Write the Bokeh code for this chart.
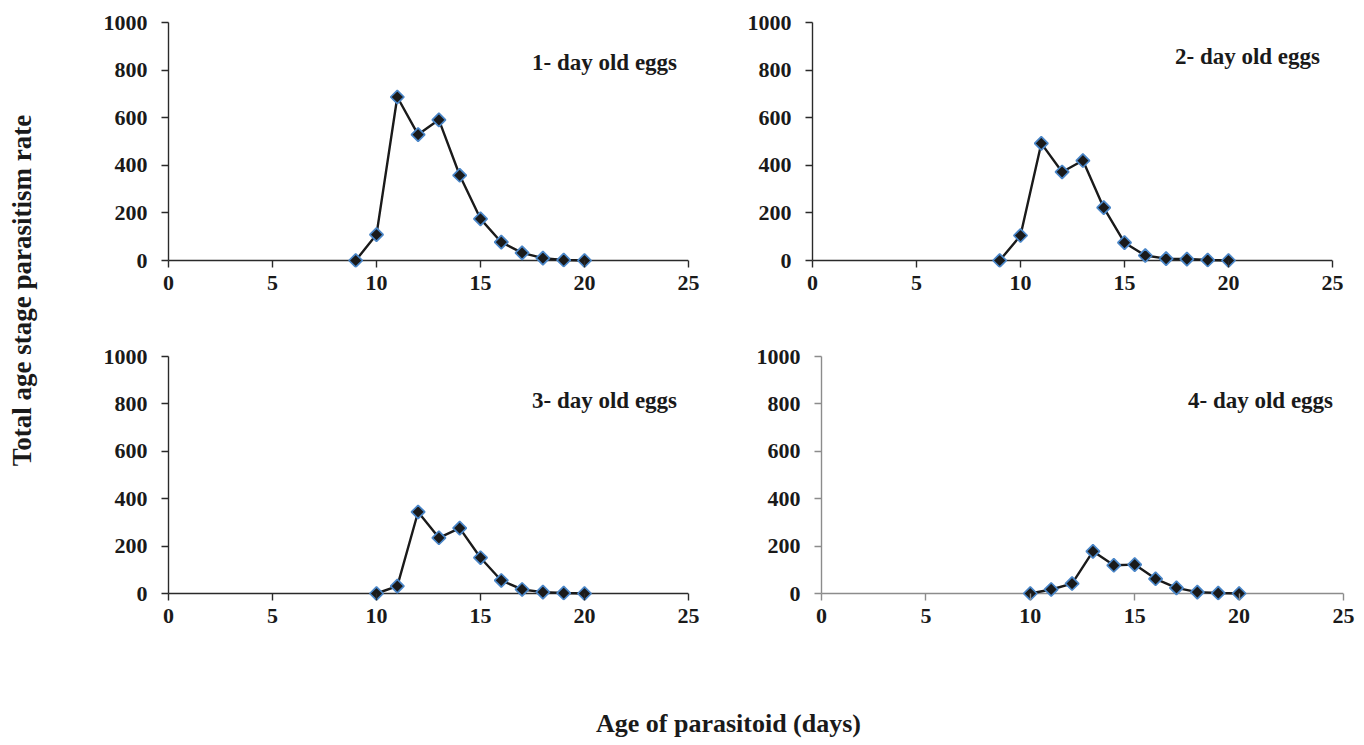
import numpy as np
from bokeh.plotting import figure
from bokeh.models import Range1d, Label, FixedTicker, Span
from bokeh.layouts import row, column
from bokeh.embed import file_html
from bokeh.resources import INLINE

# ---- data ----
days_a = [9, 10, 11, 12, 13, 14, 15, 16, 17, 18, 19, 20]
rate_1day = [0, 109, 687, 529, 591, 358, 175, 77, 32, 10, 2, 0]
rate_2day = [0, 105, 492, 372, 420, 222, 75, 21, 8, 6, 2, 0]
days_b = [10, 11, 12, 13, 14, 15, 16, 17, 18, 19, 20]
rate_3day = [0, 31, 344, 235, 276, 151, 55, 17, 6, 2, 0]
rate_4day = [0, 17, 42, 178, 119, 122, 62, 24, 6, 2, 0]
panel_titles = ["1- day old eggs", "2- day old eggs", "3- day old eggs", "4- day old eggs"]
x_ticks = [0, 5, 10, 15, 20, 25]
y_ticks = [0, 200, 400, 600, 800, 1000]
y_title = "Total age stage parasitism rate"
x_title = "Age of parasitoid (days)"

FONT = "Liberation Serif"
PAD = 7  # px below zero so zero-markers are not clipped (= tick length)


def panel(xs, ys, title, fw, fh, bl, br, bt, bb, axis_color, tx, ty):
    y0 = -PAD * 1000.0 / fh
    p = figure(frame_width=fw, frame_height=fh + PAD,
               x_range=Range1d(0, 25), y_range=Range1d(y0, 1000),
               min_border_left=bl, min_border_right=br,
               min_border_top=bt, min_border_bottom=bb,
               toolbar_location=None, output_backend="svg", title=None)
    p.grid.visible = False
    p.outline_line_color = None
    p.background_fill_color = "white"
    p.border_fill_color = "white"
    p.xaxis.ticker = FixedTicker(ticks=x_ticks)
    p.yaxis.ticker = FixedTicker(ticks=y_ticks)
    p.yaxis.bounds = (0, 1000)
    for ax in (p.xaxis, p.yaxis):
        ax.axis_line_color = axis_color
        ax.axis_line_width = 1.4
        ax.major_tick_line_color = axis_color
        ax.major_tick_line_width = 1.4
        ax.minor_tick_line_color = None
        ax.major_label_text_font = FONT
        ax.major_label_text_font_style = "bold"
        ax.major_label_text_font_size = "22px"
        ax.major_label_text_color = "#1a1a1a"
    p.yaxis.major_tick_out = 7
    p.yaxis.major_tick_in = 0
    p.yaxis.major_label_standoff = 14
    # x axis sits at the frame bottom; its ticks reach up to the zero line
    p.xaxis.axis_line_color = None
    p.xaxis.major_tick_out = 0
    p.xaxis.major_tick_in = PAD
    p.xaxis.major_label_standoff = 8
    p.add_layout(Span(location=0, dimension="width", line_color=axis_color,
                      line_width=1.4, level="underlay"))
    p.line(xs, ys, line_color="#1a1a1a", line_width=2.4)
    p.scatter(xs, ys, marker="square", angle=np.pi / 4, size=9.5,
              fill_color="#1a1a1a", line_color="#4a86c8", line_width=1.7)
    p.add_layout(Label(x=tx, y=ty, text=title, text_align="right",
                       text_baseline="middle", text_font=FONT,
                       text_font_style="bold", text_font_size="23px",
                       text_color="#1a1a1a"))
    return p


p1 = panel(days_a, rate_1day, panel_titles[0], 520, 238, 100, 24, 22, 45, "#2a2a2a", 24.45, 832)
p2 = panel(days_a, rate_2day, panel_titles[1], 520, 238, 100, 24, 22, 45, "#2a2a2a", 24.4, 857)
p3 = panel(days_b, rate_3day, panel_titles[2], 520, 237, 100, 24, 44, 45, "#2a2a2a", 24.45, 814)
p4 = panel(days_b, rate_4day, panel_titles[3], 522, 237, 109, 13, 44, 45, "#8c8c8c", 24.5, 814)


def blank(w, h):
    b = figure(frame_width=w, frame_height=h, x_range=Range1d(0, 1), y_range=Range1d(0, 1),
               min_border=0, x_axis_location=None, y_axis_location=None,
               toolbar_location=None, output_backend="svg", title=None)
    b.grid.visible = False
    b.outline_line_color = None
    b.border_fill_color = "white"
    return b


ylab = blank(68, 741)
ylab.add_layout(Label(x=0.309, y=0.6086, text=y_title, angle=np.pi / 2,
                      text_align="center", text_baseline="middle", text_font=FONT,
                      text_font_style="bold", text_font_size="27px", text_color="#1a1a1a"))

xlab = blank(1288, 96)
xlab.add_layout(Label(x=0.5124, y=0.19, text=x_title,
                      text_align="center", text_baseline="middle", text_font=FONT,
                      text_font_style="bold", text_font_size="26px", text_color="#1a1a1a"))

layout = row(ylab, column(row(p1, p2), row(p3, p4), xlab))

open("out.html", "w").write(file_html(layout, INLINE))
